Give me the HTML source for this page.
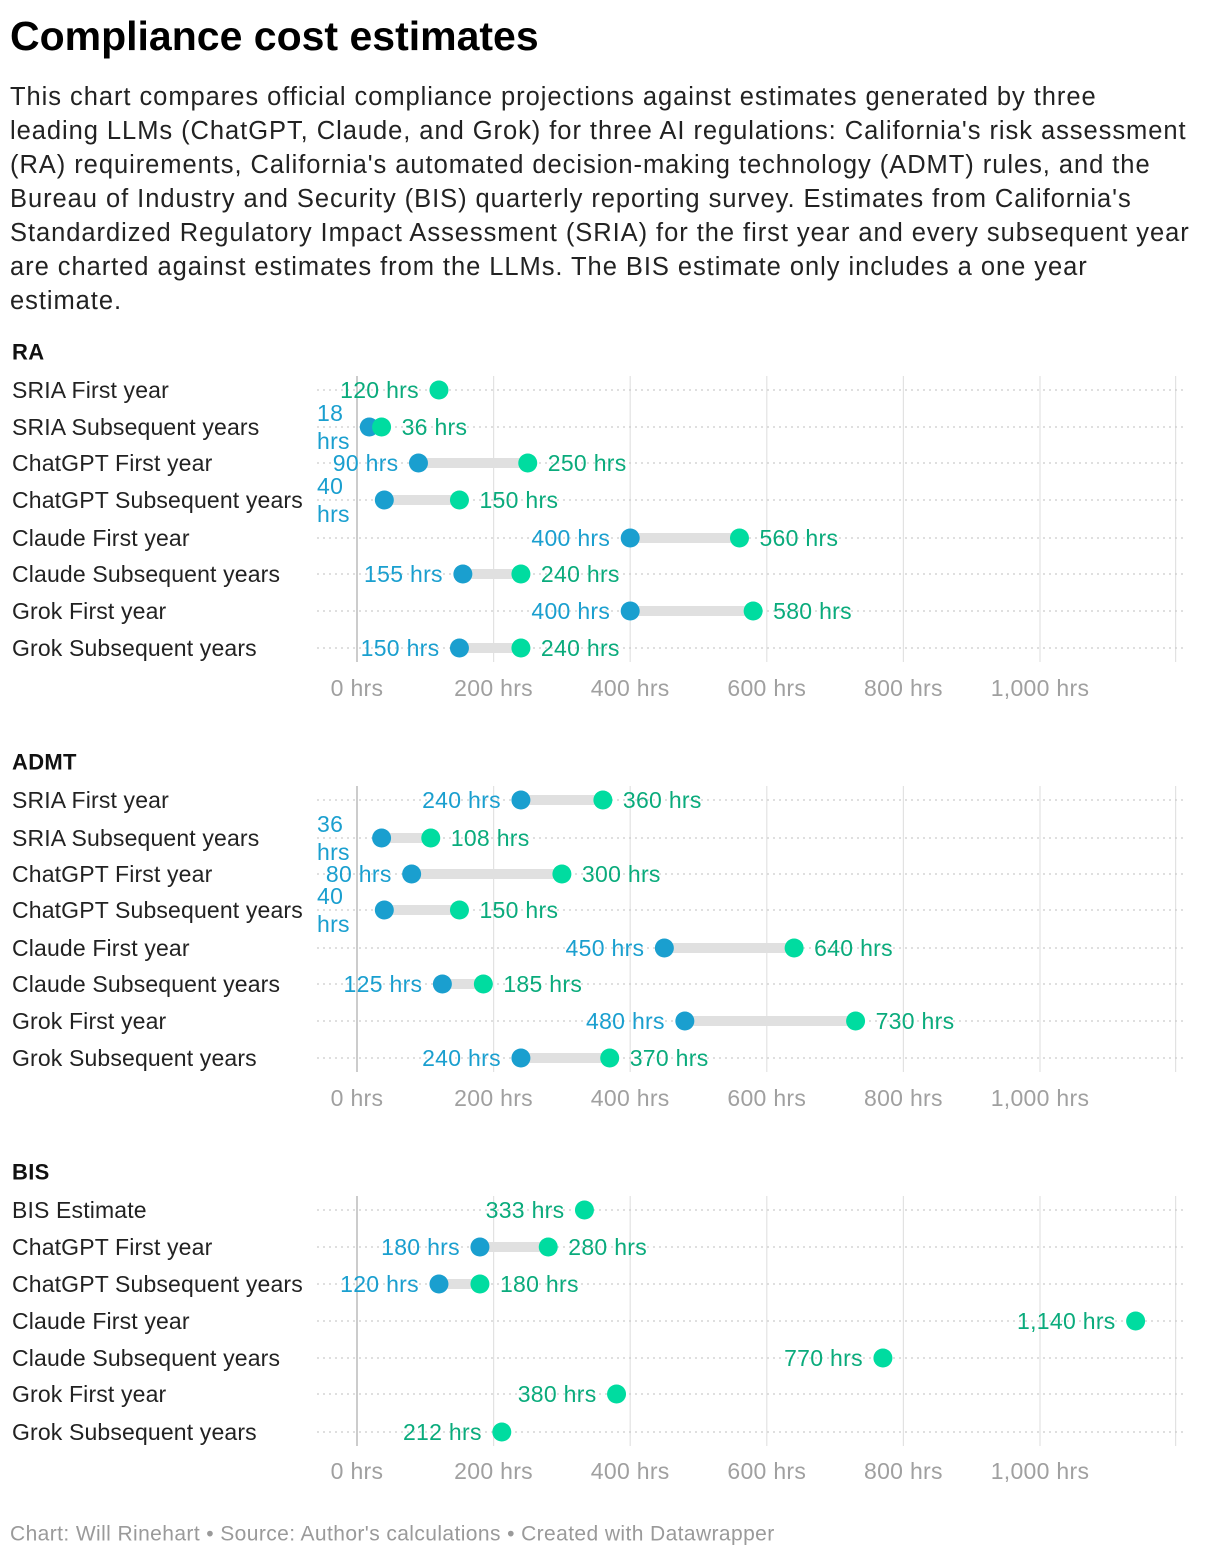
<!DOCTYPE html>
<html><head><meta charset="utf-8">
<style>
body{margin:0;background:#fff;font-family:"Liberation Sans",sans-serif;}
#wrap{position:relative;width:1220px;height:1558px;overflow:hidden;}
h1{position:absolute;left:10px;top:13px;margin:0;font-size:41px;font-weight:bold;color:#000;letter-spacing:0px;}
#desc{position:absolute;left:10px;top:80px;font-size:25.5px;line-height:34px;color:#222;white-space:nowrap;letter-spacing:0.95px;}
svg{position:absolute;left:0;top:0;}
</style></head><body>
<div id="wrap">
<h1>Compliance cost estimates</h1>
<div id="desc">This chart compares official compliance projections against estimates generated by three<br>leading LLMs (ChatGPT, Claude, and Grok) for three AI regulations: California's risk assessment<br>(RA) requirements, California's automated decision-making technology (ADMT) rules, and the<br>Bureau of Industry and Security (BIS) quarterly reporting survey. Estimates from California's<br>Standardized Regulatory Impact Assessment (SRIA) for the first year and every subsequent year<br>are charted against estimates from the LLMs. The BIS estimate only includes a one year<br>estimate.</div>
<svg id="chart" width="1220" height="1558"></svg>
</div>
<script>
const raLabels=["SRIA First year","SRIA Subsequent years","ChatGPT First year","ChatGPT Subsequent years","Claude First year","Claude Subsequent years","Grok First year","Grok Subsequent years"];
const raLow=[null,18,90,40,400,155,400,150];
const raHigh=[120,36,250,150,560,240,580,240];
const admtLabels=["SRIA First year","SRIA Subsequent years","ChatGPT First year","ChatGPT Subsequent years","Claude First year","Claude Subsequent years","Grok First year","Grok Subsequent years"];
const admtLow=[240,36,80,40,450,125,480,240];
const admtHigh=[360,108,300,150,640,185,730,370];
const bisLabels=["BIS Estimate","ChatGPT First year","ChatGPT Subsequent years","Claude First year","Claude Subsequent years","Grok First year","Grok Subsequent years"];
const bisLow=[null,180,120,null,null,null,null];
const bisHigh=[333,280,180,1140,770,380,212];
const tickValues=[0,200,400,600,800,1000];
const tickLabels=["0 hrs","200 hrs","400 hrs","600 hrs","800 hrs","1,000 hrs"];

const NS="http://www.w3.org/2000/svg";
const svg=document.getElementById('chart');
const BLUE="#1a9fcf",GREEN="#00dca0",GTEXT="#0aab7c";
function x(v){return 357+v*0.6830;}
function mk(tag,attrs,parent){const e=document.createElementNS(NS,tag);for(const k in attrs)e.setAttribute(k,attrs[k]);(parent||svg).appendChild(e);return e;}
function txt(s,xx,yy,size,fill,anchor,weight,ls){const t=mk('text',{x:xx,y:yy,'font-size':size,fill:fill,'text-anchor':anchor||'start','font-family':'Liberation Sans, sans-serif','dominant-baseline':'central','letter-spacing':ls||0.3});if(weight)t.setAttribute('font-weight',weight);t.textContent=s;return t;}
function fmt(v){return v.toLocaleString('en-US')+" hrs";}

function section(name,title,titleY,rowsY,axisY,labels,low,high){
  const g=mk('g',{});
  
  
  const t=txt(title,12,titleY,22,'#111','start','bold');g.appendChild(t);
  
  
  const top=rowsY[0]-14,bot=rowsY[rowsY.length-1]+14;
  for(let i=0;i<tickValues.length;i++){
    const l=mk('line',{x1:x(tickValues[i]),x2:x(tickValues[i]),y1:top,y2:bot,stroke:i==0?'#bbb':'#e2e2e2','stroke-width':i==0?1.5:1.2},g);
    
    
    const tl=txt(tickLabels[i],x(tickValues[i]),axisY,23,'#a0a0a0','middle');g.appendChild(tl);
    
    
  }
  const l2=mk('line',{x1:x(1200)-1,x2:x(1200)-1,y1:top,y2:bot,stroke:'#e2e2e2','stroke-width':1.2},g);
  
  
  for(let i=0;i<labels.length;i++){
    const y=rowsY[i];
    const rl=txt(labels[i],12,y,23,'#222','start',null,0.15);g.appendChild(rl);
    
    
    const d=mk('line',{x1:317,x2:1187,y1:y,y2:y,stroke:'#ccc','stroke-width':1.3,'stroke-dasharray':'2,4'},g);
    
    
    const hi=high[i],lo=low[i];
    if(lo!==null){
      const b=mk('line',{x1:x(lo),x2:x(hi),y1:y,y2:y,stroke:'#e0e0e0','stroke-width':10},g);
      
      
      const c=mk('circle',{cx:x(lo),cy:y,r:9.5,fill:BLUE},g);
      
      
      let lt;
      if(x(lo)-15-75<317){
        lt=txt(String(lo),317,y-14,23,BLUE);g.appendChild(lt);
        const lt2=txt('hrs',317,y+14,23,BLUE);g.appendChild(lt2);
        
        
      } else {lt=txt(fmt(lo),x(lo)-20,y,23,BLUE,'end');g.appendChild(lt);}
      
      
      const c2=mk('circle',{cx:x(hi),cy:y,r:9.5,fill:GREEN},g);
      
      
      const ht=txt(fmt(hi),x(hi)+20,y,23,GTEXT);g.appendChild(ht);
      
      
    } else {
      const c2=mk('circle',{cx:x(hi),cy:y,r:9.5,fill:GREEN},g);
      
      
      const ht=txt(fmt(hi),x(hi)-20,y,23,GTEXT,'end');g.appendChild(ht);
      
      
    }
  }
}
section('ra','RA',352,[390,427,463,500,538,574,611,648],688,raLabels,raLow,raHigh);
section('admt','ADMT',762,[800,838,874,910,948,984,1021,1058],1098,admtLabels,admtLow,admtHigh);
section('bis','BIS',1172,[1210,1247,1284,1321,1358,1394,1432],1471,bisLabels,bisLow,bisHigh);
const f=txt("Chart: Will Rinehart • Source: Author's calculations • Created with Datawrapper",10,1534,21,'#9a9a9a','start',null,0.4);


</script>
</body></html>
